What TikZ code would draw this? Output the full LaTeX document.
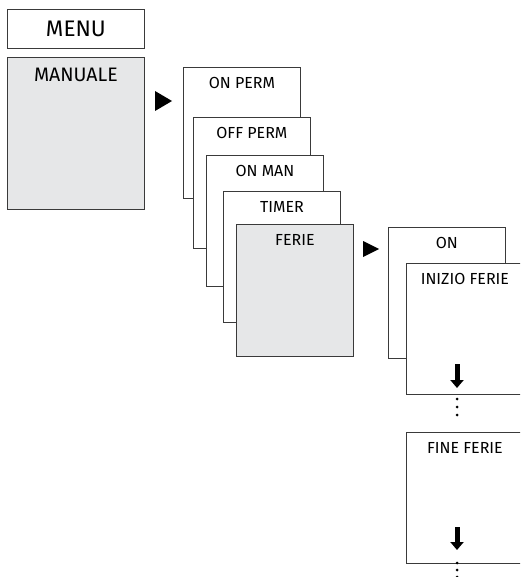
\documentclass[tikz,border=0pt]{standalone}
\usepackage{fontspec}
\setmainfont{Fira Sans}
\usetikzlibrary{arrows.meta}
\definecolor{screengray}{HTML}{E6E7E8}
\definecolor{linegray}{HTML}{3A3A3A}
\tikzset{
  screen/.style={draw=linegray, line width=0.8pt, fill=white, anchor=north west,
    minimum width=117pt, minimum height=131pt, inner sep=0pt},
  title/.style={anchor=north, inner sep=0pt, font=\fontsize{16}{18}\selectfont},
  next/.style={fill=black},
  down/.style={line width=5pt, -{Triangle[width=13pt,length=8pt]}},
}
\begin{document}
\begin{tikzpicture}[x=1pt, y=-1pt]
  \useasboundingbox (0,0) rectangle (520,577);
  \clip (0,0) rectangle (520,577);
  \node[screen, minimum width=137pt, minimum height=39pt] (menu) at (7,9) {};
  \node[font=\fontsize{22.5}{25}\selectfont] at (menu.center) {MENU};
  \node[screen, fill=screengray, minimum width=137pt, minimum height=152pt] (manuale) at (7,57) {};
  \node[title, font=\fontsize{19.5}{22}\selectfont] at ([yshift=-11pt]manuale.north) {MANUALE};
  \fill[next] (155,91) -- (172,101) -- (155,111) -- cycle;

  \node[screen] (onperm) at (183,67) {};
  \node[title] at ([yshift=-10pt]onperm.north) {ON PERM};
  \node[screen] (offperm) at (193,117) {};
  \node[title] at ([yshift=-10pt]offperm.north) {OFF PERM};
  \node[screen] (onman) at (206,155) {};
  \node[title] at ([yshift=-10pt]onman.north) {ON MAN};
  \node[screen] (timer) at (223,191) {};
  \node[title] at ([yshift=-10pt]timer.north) {TIMER};
  \node[screen, fill=screengray, minimum height=132pt] (ferie) at (236,224) {};
  \node[title] at ([yshift=-10pt]ferie.north) {FERIE};
  \fill[next] (363,241) -- (379,249) -- (363,257) -- cycle;

  \node[screen] (on) at (388,227) {};
  \node[title] at ([yshift=-10pt]on.north) {ON};
  \node[screen] (inizio) at (406,263) {};
  \node[title] at ([yshift=-10pt]inizio.north) {INIZIO FERIE};
  \coordinate (a1) at (457,364);
  \draw[down] (a1) -- ++(0,24);
  \foreach \y in {399,407,415} \fill (457,\y) circle (1.5pt);

  \node[screen] (fine) at (406,432) {};
  \node[title] at ([yshift=-10pt]fine.north) {FINE FERIE};
  \coordinate (a2) at (457,527);
  \draw[down] (a2) -- ++(0,23);
  \foreach \y in {563,570,577} \fill (457,\y) circle (1.5pt);
\end{tikzpicture}
\end{document}
